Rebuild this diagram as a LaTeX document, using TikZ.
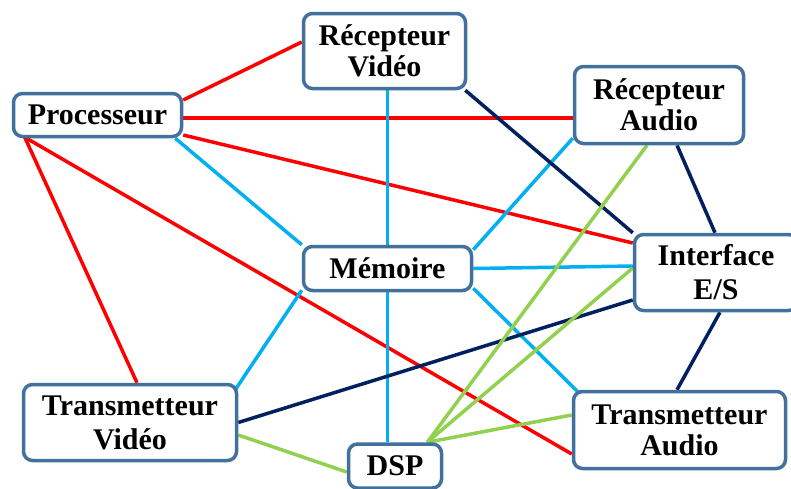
\documentclass[tikz,border=0pt]{standalone}
\usepackage{fontspec}
\setmainfont{Liberation Serif}
\usetikzlibrary{backgrounds,calc}
\definecolor{boxblue}{HTML}{41719C}
\definecolor{linkred}{HTML}{FF0000}
\definecolor{linkcyan}{HTML}{00B0F0}
\definecolor{linknavy}{HTML}{002060}
\definecolor{linkgreen}{HTML}{92D050}
\tikzset{
  unit/.style={draw=boxblue, line width=3.5pt, rounded corners=9pt, fill=white,
    inner sep=0pt, align=center,
    font=\fontsize{30}{31}\selectfont\bfseries},
  link/.style={line width=3.5pt},
  redlink/.style={link, draw=linkred},
  cyanlink/.style={link, draw=linkcyan},
  navylink/.style={link, draw=linknavy},
  greenlink/.style={link, draw=linkgreen}
}
\begin{document}
\begin{tikzpicture}[x=1pt, y=-1pt]
\useasboundingbox (0,0) rectangle (791,488);

% functional blocks
\node[unit, minimum width=168pt, minimum height=43pt] (proc) at (97.5,115) {Processeur};
\node[unit, minimum width=162pt, minimum height=75pt] (rv) at (384.5,51) {Récepteur\\Vidéo};
\node[unit, minimum width=169pt, minimum height=77pt] (ra) at (659,105) {Récepteur\\Audio};
\node[unit, minimum width=163pt, minimum height=76pt] (ies) at (716,272.5) {Interface\\[3pt]E/S};
\node[unit, minimum width=168pt, minimum height=44pt] (mem) at (387.5,268.5) {Mémoire};
\node[unit, minimum width=213pt, minimum height=76pt] (tv) at (130,422.5) {Transmetteur\\[3pt]Vidéo};
\node[unit, minimum width=93pt, minimum height=44pt] (dsp) at (395,466) {DSP};
\node[unit, minimum width=212pt, minimum height=77pt] (ta) at (679.5,430) {Transmetteur\\Audio};

\coordinate (dsphub) at ([xshift=-16pt]dsp.north east);
\coordinate (procfoot) at ([xshift=13pt,yshift=1pt]proc.south west);

\begin{pgfonlayer}{background}
% processor bus (red)
\draw[redlink] ([yshift=15pt]proc.east) -- ([yshift=9pt]rv.west);
\draw[redlink] ([yshift=-3pt]proc.east) -- ([yshift=-13pt]ra.west);
\draw[redlink] ([yshift=-20pt]proc.east) -- ([yshift=29.5pt]ies.west);
\draw[redlink] (procfoot) -- ([xshift=7pt]tv.north);
\draw[redlink] (procfoot) -- ([yshift=-24pt]ta.west);

% memory bus (cyan)
\draw[cyanlink] ([xshift=-8pt]proc.south east) -- (mem.north west);
\draw[cyanlink] (rv.south -| mem.north) -- (mem.north);
\draw[cyanlink] (mem.south) -- (mem.south |- dsp.north);
\draw[cyanlink] ([yshift=-5pt]mem.north east) -- ([yshift=7pt]ra.south west);
\draw[cyanlink] (mem.east) -- ([yshift=6.5pt]ies.west);
\draw[cyanlink] ([yshift=4pt]mem.south east) -- ([xshift=6pt,yshift=-2pt]ta.north west);
\draw[cyanlink] ([yshift=2pt]mem.south west) -- ([xshift=-3pt,yshift=-7pt]tv.north east);

% I/O interface links (navy)
\draw[navylink] ([xshift=-2pt]rv.south east) -- (ies.north west);
\draw[navylink] ([xshift=18pt]ra.south) -- ([xshift=-1pt]ies.north);
\draw[navylink] ([xshift=4pt]ies.south) -- ([xshift=-2.5pt]ta.north);
\draw[navylink] ([yshift=-27.5pt]ies.west) -- (tv.east);

% signal processing links (green)
\draw[greenlink] ([xshift=-12pt]ra.south) -- (dsphub);
\draw[greenlink] ([yshift=4.5pt]ies.west) -- (dsphub);
\draw[greenlink] ([yshift=15pt]ta.west) -- (dsphub);
\draw[greenlink] ([yshift=-12.5pt]tv.east) -- ([yshift=-6pt]dsp.west);
\end{pgfonlayer}
\end{tikzpicture}
\end{document}
